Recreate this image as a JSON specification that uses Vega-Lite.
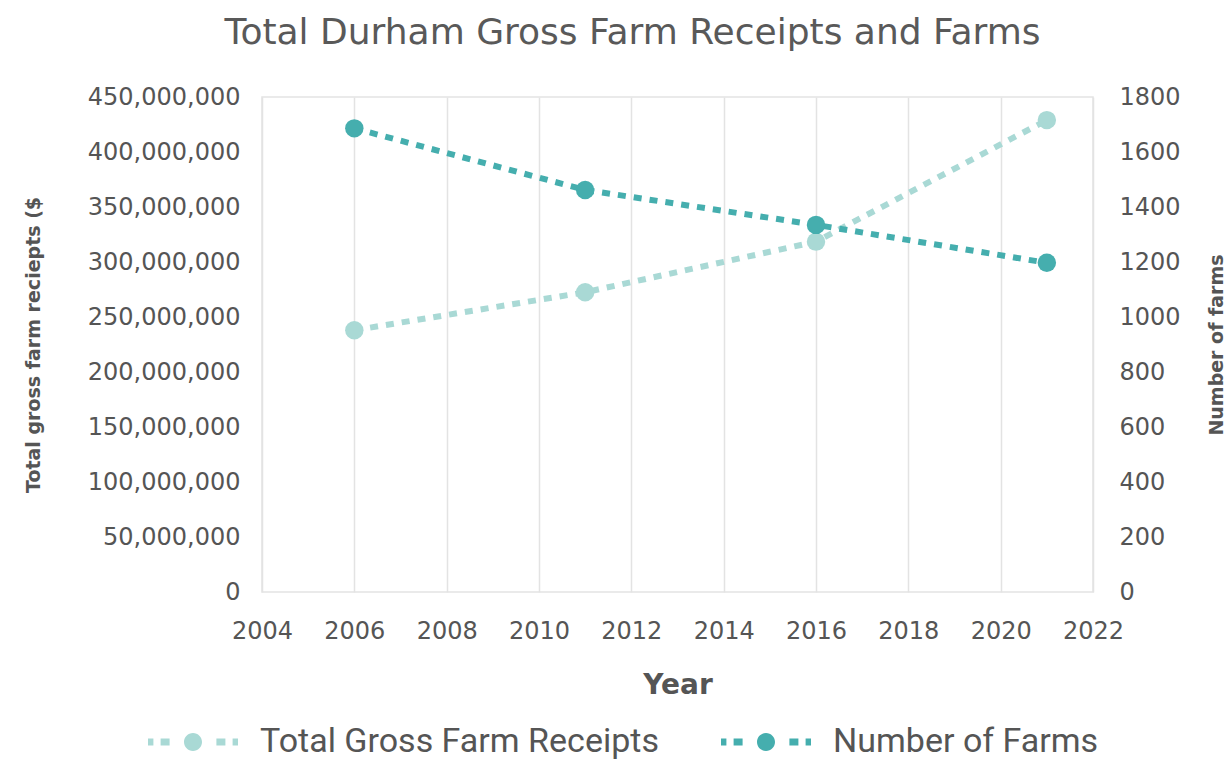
{
  "$schema": "https://vega.github.io/schema/vega-lite/v6.json",
  "width": 831,
  "height": 495,
  "autosize": {"type": "none"},
  "padding": {"left": 262, "top": 97, "right": 139, "bottom": 168},
  "background": "white",
  "title": {
    "text": "Total Durham Gross Farm Receipts and Farms",
    "fontSize": 36,
    "font": "DejaVu Sans",
    "fontWeight": 500,
    "color": "#595959",
    "anchor": "middle",
    "dx": -45,
    "offset": 33
  },
  "data": {
    "values": [
      {"year": 2006, "series": "Total Gross Farm Receipts", "value": 238000000},
      {"year": 2011, "series": "Total Gross Farm Receipts", "value": 272500000},
      {"year": 2016, "series": "Total Gross Farm Receipts", "value": 318500000},
      {"year": 2021, "series": "Total Gross Farm Receipts", "value": 429000000},
      {"year": 2006, "series": "Number of Farms", "value": 1686},
      {"year": 2011, "series": "Number of Farms", "value": 1462},
      {"year": 2016, "series": "Number of Farms", "value": 1335},
      {"year": 2021, "series": "Number of Farms", "value": 1197}
    ]
  },
  "config": {
    "view": {"stroke": "#e3e3e3", "strokeWidth": 1.5},
    "axis": {
      "labelFont": "DejaVu Sans",
      "labelFontSize": 24,
      "labelColor": "#555555",
      "titleFont": "DejaVu Sans",
      "titleColor": "#555555",
      "domain": false,
      "ticks": false,
      "labelFlush": false
    }
  },
  "encoding": {
    "x": {
      "field": "year",
      "type": "quantitative",
      "scale": {"domain": [2004, 2022], "nice": false, "zero": false},
      "axis": {
        "values": [2004, 2006, 2008, 2010, 2012, 2014, 2016, 2018, 2020, 2022],
        "format": "d",
        "grid": true,
        "gridColor": "#e3e3e3",
        "gridWidth": 1.5,
        "labelPadding": 27,
        "labelOverlap": false,
        "title": "Year",
        "titleFontSize": 28,
        "titleFontWeight": "bold",
        "titlePadding": 28
      }
    },
    "color": {
      "field": "series",
      "type": "nominal",
      "scale": {
        "domain": ["Total Gross Farm Receipts", "Number of Farms"],
        "range": ["#a9d9d5", "#45aeae"]
      },
      "legend": {
        "title": null,
        "orient": "none",
        "direction": "horizontal",
        "legendX": -114,
        "legendY": 600,
        "labelFont": "Roboto",
        "labelFontSize": 34,
        "labelColor": "#555555",
        "labelLimit": 0,
        "labelOffset": 22,
        "columnPadding": 62,
        "symbolType": "M-1,-0.08h0.12v0.16h-0.12z M-0.72,-0.08h0.2v0.16h-0.2z M-0.2,0a0.2,0.2 0 1,0 0.4,0a0.2,0.2 0 1,0 -0.4,0z M0.52,-0.08h0.2v0.16h-0.2z M0.88,-0.08h0.12v0.16h-0.12z",
        "symbolSize": 8100,
        "symbolStrokeWidth": 0,
        "encode": {
          "symbols": {"update": {"fill": {"scale": "color", "field": "value"}, "fillOpacity": {"value": 1}, "strokeWidth": {"value": 0}}}
        }
      }
    }
  },
  "layer": [
    {
      "transform": [{"filter": "datum.series === 'Total Gross Farm Receipts'"}],
      "mark": {
        "type": "line",
        "strokeWidth": 6,
        "strokeDash": [8, 8],
        "strokeCap": "butt",
        "point": {"filled": true, "size": 340, "opacity": 1}
      },
      "encoding": {
        "y": {
          "field": "value",
          "type": "quantitative",
          "scale": {"domain": [0, 450000000], "nice": false},
          "axis": {
            "orient": "left",
            "values": [0, 50000000, 100000000, 150000000, 200000000, 250000000, 300000000, 350000000, 400000000, 450000000],
            "format": ",d",
            "grid": false,
            "labelPadding": 22,
            "title": "Total gross farm reciepts ($",
            "titleFontSize": 19,
            "titleFontWeight": "bold",
            "titlePadding": 44
          }
        }
      }
    },
    {
      "transform": [{"filter": "datum.series === 'Number of Farms'"}],
      "mark": {
        "type": "line",
        "strokeWidth": 6,
        "strokeDash": [8, 8],
        "strokeCap": "butt",
        "point": {"filled": true, "size": 340, "opacity": 1}
      },
      "encoding": {
        "y": {
          "field": "value",
          "type": "quantitative",
          "scale": {"domain": [0, 1800], "nice": false},
          "axis": {
            "orient": "right",
            "values": [0, 200, 400, 600, 800, 1000, 1200, 1400, 1600, 1800],
            "format": "d",
            "grid": false,
            "labelPadding": 26,
            "title": "Number of farms",
            "titleAngle": 270,
            "titleFontSize": 19,
            "titleFontWeight": "bold",
            "titlePadding": 46
          }
        }
      }
    }
  ],
  "resolve": {"scale": {"y": "independent"}}
}
